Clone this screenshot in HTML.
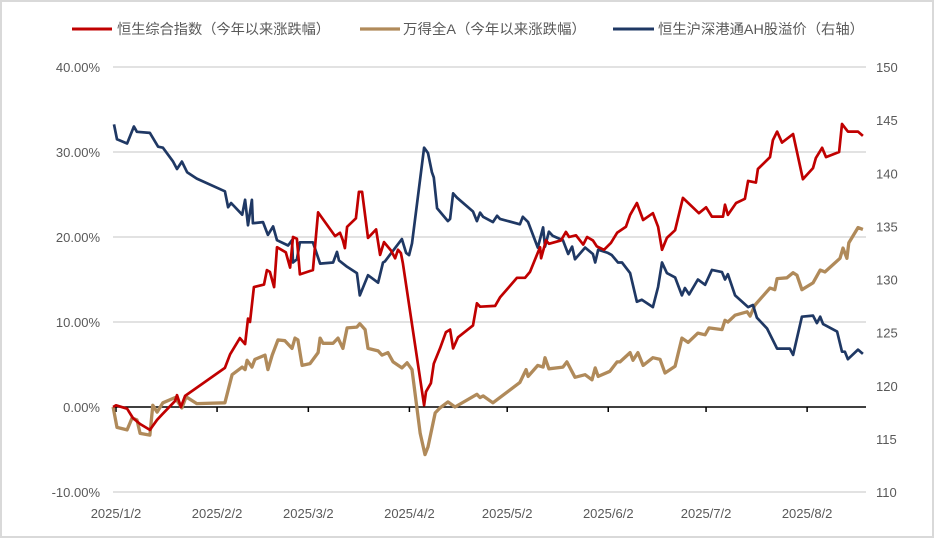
<!DOCTYPE html>
<html><head><meta charset="utf-8">
<style>
html,body{margin:0;padding:0;background:#fff;}
#wrap{position:relative;width:934px;height:538px;overflow:hidden;}
svg text{font-family:"Liberation Sans","Noto Sans CJK SC",sans-serif;}
</style></head>
<body>
<div id="wrap">
<svg id="chart" width="934" height="538" xmlns="http://www.w3.org/2000/svg">
<rect x="1" y="1" width="932" height="536" fill="#fff" stroke="#d9d9d9" stroke-width="2"/>
<g id="legend">
 <g>
  <line x1="72" y1="29" x2="112" y2="29" stroke="#C00000" stroke-width="3"/>
  <text x="117" y="34" font-size="14" fill="#595959" textLength="213" lengthAdjust="spacingAndGlyphs">恒生综合指数（今年以来涨跌幅）</text>
 </g>
 <g>
  <line x1="360" y1="29" x2="400" y2="29" stroke="#B08A5A" stroke-width="3.3"/>
  <text x="403" y="34" font-size="14" fill="#595959" textLength="183" lengthAdjust="spacingAndGlyphs">万得全A（今年以来涨跌幅）</text>
 </g>
 <g>
  <line x1="613" y1="29" x2="654" y2="29" stroke="#1F3864" stroke-width="3"/>
  <text x="658" y="34" font-size="14" fill="#595959" textLength="206" lengthAdjust="spacingAndGlyphs">恒生沪深港通AH股溢价（右轴）</text>
 </g>
</g>
<g id="grid"></g>
<g id="axes"></g>
<g id="series"></g>
</svg>
</div>
<script>
// ---- data (days since 2025-01-02) ----
const xTickLabels = ["2025/1/2","2025/2/2","2025/3/2","2025/4/2","2025/5/2","2025/6/2","2025/7/2","2025/8/2"];
const xTickDays = [0,31,59,90,120,151,181,212];
const leftTicks = [40,30,20,10,0,-10];
const rightTicks = [150,145,140,135,130,125,120,115,110];

const hsDays = [-0.9,0,3.4,5.2,7.4,10.4,12.6,14.1,18.1,18.7,19.9,21.2,33.4,35.0,38.0,39.6,40.5,41.1,42.3,45.4,46.3,47.2,48.5,49.4,52.1,53.4,54.3,55.5,56.4,59.5,60.4,62.0,67.2,68.7,69.6,70.2,70.9,73.6,74.5,75.5,77.3,79.8,81.0,82.2,84.4,85.6,86.5,87.4,88.0,94.5,95.1,96.6,97.5,99.4,101.2,102.5,103.4,104.9,109.5,110.7,111.7,116.3,117.8,123.0,125.5,127.0,129.1,130.1,130.4,131.9,132.8,136.5,138.0,139.0,141.1,143.3,144.5,146.3,147.5,149.7,151.8,153.7,156.4,157.7,159.8,161.7,164.7,166.3,167.5,169.0,171.5,173.9,178.8,181.0,182.8,186.2,186.8,187.7,190.2,192.9,193.9,196.3,196.9,200.6,201.5,202.8,204.3,207.7,210.7,213.8,214.7,216.6,217.8,221.8,222.7,224.5,227.6,229.1];
const hsValues = [0.0,0.2,-0.2,-1.3,-2.0,-2.7,-1.5,-0.9,0.7,1.4,0.0,1.3,4.6,6.2,8.1,7.4,10.4,10.0,14.1,14.4,16.1,15.9,14.1,18.8,18.2,16.4,20.0,19.8,15.6,16.0,16.1,22.9,20.1,20.5,19.6,18.7,21.2,22.2,25.3,25.3,19.9,20.9,17.9,19.4,18.4,17.5,18.5,18.1,16.9,0.2,1.8,2.8,5.1,6.9,8.8,9.1,6.9,8.2,9.6,12.2,11.8,11.9,12.9,15.2,15.2,15.9,17.9,18.8,17.5,19.6,19.2,19.6,20.6,20.0,20.2,19.1,20.0,19.6,18.9,18.5,19.3,20.5,21.2,22.6,24.0,22.0,22.8,21.2,18.5,19.9,20.8,24.6,22.8,23.5,22.4,22.4,23.8,22.6,24.0,24.5,26.6,26.4,28.0,29.4,31.4,32.4,31.1,32.1,26.8,28.1,29.3,30.5,29.4,30.0,33.3,32.4,32.4,31.9];

const windDays = [-0.9,0.3,3.4,4.9,6.4,7.4,10.4,11.3,12.6,14.4,18.1,20.2,21.5,24.8,33.4,35.6,38.7,39.6,40.2,41.7,42.6,45.7,46.6,47.9,49.7,51.8,54.0,54.9,55.8,57.1,59.5,62.0,62.6,63.5,66.6,68.1,69.6,70.9,73.9,74.8,76.4,77.3,80.4,81.6,83.4,85.0,87.7,89.3,90.8,93.3,94.8,95.7,97.9,99.4,101.8,104.0,110.7,111.7,112.6,115.6,123.9,125.8,126.4,129.4,131.0,131.6,132.8,137.1,138.3,140.8,143.9,146.0,147.0,147.9,151.5,153.7,154.6,157.7,158.6,160.1,161.7,164.7,166.9,168.4,171.5,173.6,175.5,178.5,180.7,181.9,185.9,186.8,187.7,189.9,193.6,194.5,196.0,200.6,202.1,202.8,205.8,207.7,208.9,210.4,213.8,216.0,217.5,222.1,223.0,224.2,224.8,227.6,229.1];
const windValues = [0.0,-2.4,-2.7,-1.3,-1.5,-3.1,-3.3,0.2,-0.6,0.5,1.1,-0.1,1.2,0.4,0.5,3.8,4.7,4.4,5.5,4.7,5.6,6.1,4.4,6.1,7.9,7.8,6.9,8.1,7.9,4.9,5.1,6.4,8.1,7.5,7.5,8.1,6.9,9.3,9.4,9.8,9.1,6.9,6.6,6.1,6.4,5.3,4.6,5.2,4.4,-3.1,-5.6,-4.7,-0.7,-0.1,0.6,0.0,1.5,1.1,1.3,0.5,2.9,4.4,3.6,4.9,4.7,5.8,4.5,4.7,5.3,3.5,3.8,3.2,4.6,3.6,4.2,5.3,5.3,6.4,5.5,6.4,4.9,5.8,5.6,4.0,4.8,8.1,7.6,8.7,8.5,9.3,9.1,10.2,10.0,10.8,11.2,10.7,12.0,14.0,13.8,15.1,15.2,15.8,15.5,13.8,14.6,16.1,15.9,17.5,18.7,17.5,19.3,21.1,20.9];

const ahDays = [-0.6,0.3,3.4,5.5,6.4,10.4,12.9,14.4,17.5,18.7,20.2,21.8,24.8,33.4,34.4,35.3,38.7,39.6,40.5,41.7,42.0,45.1,46.6,48.2,49.4,52.8,54.0,54.3,55.5,56.4,60.4,62.6,66.6,67.8,68.4,70.9,73.9,74.8,77.3,80.4,81.9,82.5,87.7,89.0,89.9,90.8,94.5,95.7,96.9,97.5,98.5,101.8,102.5,103.4,104.6,109.5,110.7,111.7,112.6,115.6,116.9,117.8,123.9,124.8,126.4,129.4,131.0,131.6,132.8,134.0,137.1,138.7,139.9,140.8,143.9,146.3,147.0,147.9,150.9,152.1,154.0,155.2,157.7,159.8,161.3,164.7,166.3,167.5,169.0,171.5,173.6,174.5,175.8,178.5,180.7,182.8,185.9,186.8,187.7,189.9,193.9,195.4,196.6,199.7,202.8,206.7,207.7,210.4,213.8,215.0,216.0,216.9,221.2,222.7,223.6,224.5,227.6,229.1];
const ahValues = [144.6,143.2,142.8,144.4,143.9,143.8,142.5,142.4,141.1,140.4,141.1,140.1,139.5,138.3,136.8,137.2,136.1,137.5,135.1,137.5,135.3,135.4,134.2,135.0,133.7,133.2,133.7,131.6,131.9,133.5,133.5,131.5,131.6,132.6,131.8,131.2,130.6,128.5,130.4,129.7,131.6,131.7,133.8,132.5,132.3,133.4,142.4,141.9,140.1,139.6,136.7,135.5,135.7,138.1,137.7,136.4,135.5,136.3,135.9,135.4,136.0,135.7,135.2,135.9,135.4,133.0,134.9,133.1,134.5,134.1,133.7,132.4,133.1,131.9,133.0,132.4,131.6,132.8,132.5,132.3,131.6,131.6,130.6,127.9,128.1,127.4,129.3,131.6,130.6,130.2,128.5,129.2,128.6,130.0,129.5,130.9,130.7,130.0,130.5,128.5,127.4,127.6,126.4,125.4,123.5,123.5,122.9,126.5,126.6,125.9,126.5,125.8,125.1,123.2,123.2,122.5,123.4,123.0];

// ---- scales ----
const X0 = 116, PX_PER_DAY = 3.26, PLOT_L = 113, PLOT_R = 866;
const xS = d => X0 + d * PX_PER_DAY;
const yL = v => 407 - v * 8.5;
const yR = v => 67 + (150 - v) * 10.625;
const NS = "http://www.w3.org/2000/svg";
function mk(tag, attrs, parent){
  const e = document.createElementNS(NS, tag);
  for (const k in attrs) e.setAttribute(k, attrs[k]);
  parent.appendChild(e);
  return e;
}
const grid = document.getElementById('grid');
const axes = document.getElementById('axes');
const series = document.getElementById('series');

leftTicks.forEach(v => {
  if (v !== 0) {
    const g = mk('line', {x1:PLOT_L, x2:PLOT_R, y1:yL(v), y2:yL(v), stroke:'#d9d9d9', 'stroke-width':1.5}, grid);
    
    
  }
  const t = mk('text', {x:100, y:yL(v)+5, 'text-anchor':'end', 'font-size':13, fill:'#595959'}, axes);
  t.textContent = v.toFixed(2) + '%';
  
  
});
rightTicks.forEach(v => {
  const t = mk('text', {x:876, y:yR(v)+5, 'font-size':13, fill:'#595959'}, axes);
  t.textContent = String(v);
  
  
});
const xa = mk('line', {x1:PLOT_L, x2:PLOT_R, y1:yL(0), y2:yL(0), stroke:'#000', 'stroke-width':1.5}, axes);


xTickDays.forEach((d, i) => {
  const tk = mk('line', {x1:xS(d), x2:xS(d), y1:yL(0), y2:yL(0)+5, stroke:'#000', 'stroke-width':1.5}, axes);
  
  
  const t = mk('text', {x:xS(d), y:518, 'text-anchor':'middle', 'font-size':13, fill:'#595959'}, axes);
  t.textContent = xTickLabels[i];
  
  
});

function drawLine(days, vals, ys, color, width, name){
  const pts = days.map((d, i) => xS(d).toFixed(1) + ',' + ys(vals[i]).toFixed(1)).join(' ');
  const p = mk('polyline', {points:pts, fill:'none', stroke:color, 'stroke-width':width, 'stroke-linejoin':'round'}, series);
  
  
}
drawLine(windDays, windValues, yL, '#B08A5A', 3.3, 'series-wind-all-a');
drawLine(ahDays, ahValues, yR, '#1F3864', 2.7, 'series-ah-premium');
drawLine(hsDays, hsValues, yL, '#C00000', 2.7, 'series-hang-seng-composite');
</script>
</body></html>
